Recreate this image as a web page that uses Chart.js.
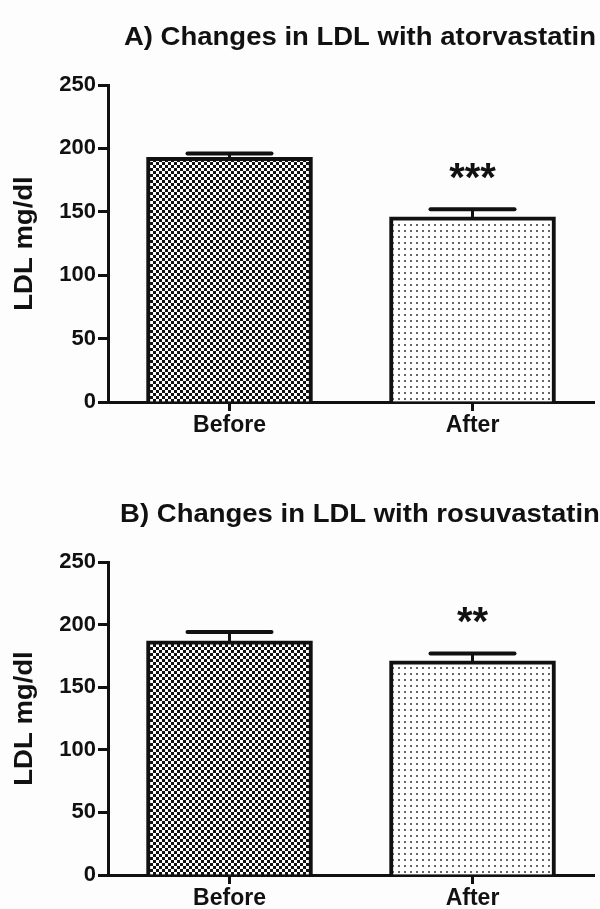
<!DOCTYPE html>
<html>
<head>
<meta charset="utf-8">
<script src="https://cdn.jsdelivr.net/npm/chart.js@4.4.0/dist/chart.umd.min.js"></script>
<style>
  html, body { margin: 0; padding: 0; background: #fdfdfd; }
  .box { position: relative; width: 600px; }
</style>
</head>
<body>
<div class="box" style="height:455px"><canvas id="chartA"></canvas></div>
<div class="box" style="height:454px"><canvas id="chartB"></canvas></div>
<script>
// data (LDL mg/dl, mean and upper error)
var categories = ['Before', 'After'];
var atorvaMeans = [193, 146];
var atorvaErrors = [3, 6];
var rosuvaMeans = [187, 171];
var rosuvaErrors = [7, 6];
var yTicks = [0, 50, 100, 150, 200, 250];
var yLabel = 'LDL mg/dl';
var titleA = 'A) Changes in LDL with atorvastatin';
var titleB = 'B) Changes in LDL with rosuvastatin';
var starsA = ['', '***'];
var starsB = ['', '**'];

var FONT = '"Liberation Sans", Arial, sans-serif';

function makePattern (kind) {
  var c = document.createElement('canvas');
  c.width = 6;
  c.height = 6;
  var g = c.getContext('2d');
  g.fillStyle = '#ffffff';
  g.fillRect(0, 0, 6, 6);
  if (kind === 'checker') {
    g.fillStyle = '#111111';
    g.fillRect(0, 0, 3, 3);
    g.fillRect(3, 3, 3, 3);
  } else {
    g.fillStyle = '#666666';
    g.fillRect(2, 2, 2, 2);
  }
  return g.createPattern(c, 'repeat');
}

// upper error bars + significance stars
var errorPlugin = {
  id: 'errorBars',
  afterDatasetsDraw: function (chart, args, opts) {
    var ctx = chart.ctx;
    var meta = chart.getDatasetMeta(0);
    var y = chart.scales.y;
    ctx.save();
    ctx.strokeStyle = '#111';
    ctx.lineCap = 'round';
    meta.data.forEach(function (bar, i) {
      var top = y.getPixelForValue(opts.means[i]);
      var capY = y.getPixelForValue(opts.means[i] + opts.errors[i]);
      ctx.lineWidth = 3;
      ctx.beginPath();
      ctx.moveTo(bar.x, top);
      ctx.lineTo(bar.x, capY);
      ctx.stroke();
      ctx.lineWidth = 4;
      ctx.beginPath();
      ctx.moveTo(bar.x - 42, capY);
      ctx.lineTo(bar.x + 42, capY);
      ctx.stroke();
      if (opts.stars[i]) {
        ctx.fillStyle = '#111';
        ctx.font = 'bold 40px ' + FONT;
        ctx.textAlign = 'center';
        ctx.textBaseline = 'alphabetic';
        ctx.fillText(opts.stars[i], bar.x, capY - 18);
      }
    });
    ctx.restore();
  }
};

// chart title and y axis title, slightly wide like the original
var titlePlugin = {
  id: 'plotTitle',
  afterDraw: function (chart, args, opts) {
    var ctx = chart.ctx;
    var a = chart.chartArea;
    ctx.save();
    ctx.fillStyle = '#111';
    ctx.font = 'bold 25px ' + FONT;
    ctx.textAlign = 'center';
    ctx.textBaseline = 'alphabetic';
    ctx.save();
    ctx.translate(360, opts.y);
    ctx.scale(1.1, 1);
    ctx.fillText(opts.text, 0, 0);
    ctx.restore();
    ctx.save();
    ctx.translate(32, (a.top + a.bottom) / 2);
    ctx.rotate(-Math.PI / 2);
    ctx.scale(1.1, 1);
    ctx.fillText(yLabel, 0, 0);
    ctx.restore();
    ctx.restore();
  }
};

function createChart (id, means, errors, stars, title, titleY, padTop, padBottom) {
  var ctx = document.getElementById(id).getContext('2d');
  return new Chart(ctx, {
    type: 'bar',
    data: {
      labels: categories,
      datasets: [{
        data: means,
        backgroundColor: [makePattern('checker'), makePattern('dots')],
        borderColor: '#111',
        borderWidth: 4,
        borderSkipped: 'start',
        barThickness: 166
      }]
    },
    plugins: [errorPlugin, titlePlugin],
    options: {
      responsive: true,
      maintainAspectRatio: false,
      animation: false,
      layout: { padding: { top: padTop, bottom: padBottom, left: 0, right: 6 } },
      plugins: {
        legend: { display: false },
        tooltip: { enabled: false },
        errorBars: { means: means, errors: errors, stars: stars },
        plotTitle: { text: title, y: titleY }
      },
      scales: {
        x: {
          offset: true,
          afterFit: function (s) { s.height = 34; },
          grid: { display: true, drawOnChartArea: false, tickLength: 9, tickWidth: 3, tickColor: '#111', offset: false },
          border: { display: true, color: '#111', width: 3 },
          ticks: { color: '#111', padding: 1, font: { family: FONT, size: 23, weight: 'bold' } }
        },
        y: {
          min: 0,
          max: 250,
          afterFit: function (s) { s.width = 108; },
          afterBuildTicks: function (s) { s.ticks = yTicks.map(function (v) { return { value: v }; }); },
          grid: { display: true, drawOnChartArea: false, tickLength: 10, tickWidth: 3, tickColor: '#111' },
          border: { display: true, color: '#111', width: 3 },
          ticks: { color: '#111', padding: 2, font: { family: FONT, size: 22, weight: 'bold' } }
        }
      }
    }
  });
}

createChart('chartA', atorvaMeans, atorvaErrors, starsA, titleA, 45, 85, 19);
createChart('chartB', rosuvaMeans, rosuvaErrors, starsB, titleB, 67, 107, 0);
</script>
</body>
</html>
